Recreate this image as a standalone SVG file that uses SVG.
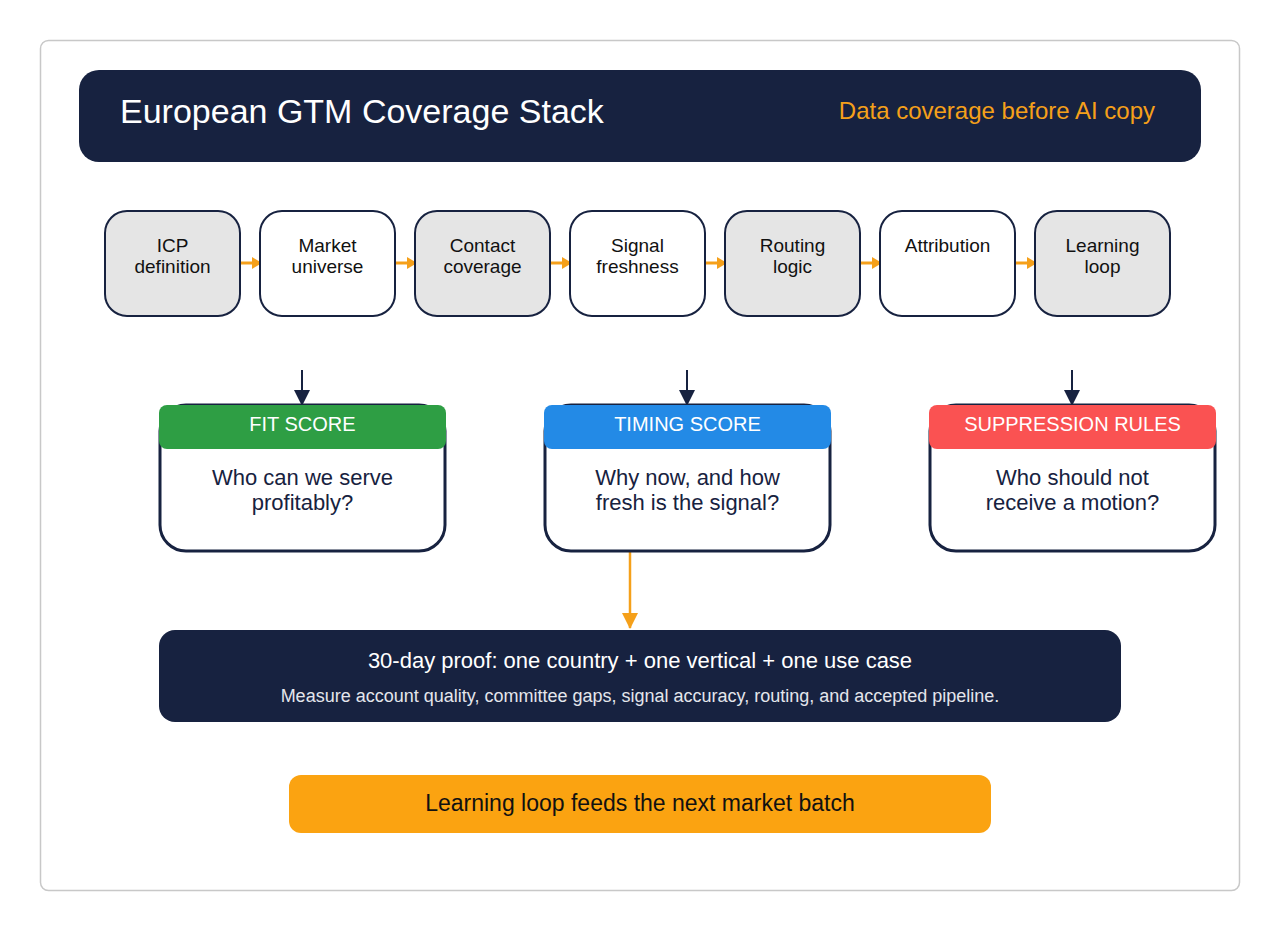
<svg xmlns="http://www.w3.org/2000/svg" width="1280" height="932" viewBox="0 0 1280 932">
<defs>
<style>
text{font-family:"Liberation Sans",Arial,sans-serif}
.step{stroke:#172240;stroke-width:2}
.grey{fill:#e5e5e5}
.white{fill:#ffffff}
.stxt{font-size:19px;fill:#111111;text-anchor:middle}
.card{fill:#ffffff;stroke:#172240;stroke-width:3}
.htxt{font-size:20px;fill:#ffffff;text-anchor:middle}
.btxt{font-size:22px;fill:#172240;text-anchor:middle}
.oarr{stroke:#f5a01a;stroke-width:3;fill:none}
.darr{stroke:#172240;stroke-width:2;fill:none}
</style>
<marker id="mo" markerWidth="10" markerHeight="12" refX="9" refY="6" orient="auto" markerUnits="userSpaceOnUse">
<path d="M0,0 L10,6 L0,12 z" fill="#f5a01a"/>
</marker>
<marker id="md" markerWidth="16" markerHeight="16" refX="15" refY="8" orient="auto" markerUnits="userSpaceOnUse">
<path d="M0,0 L16,8 L0,16 z" fill="#172240"/>
</marker>
<marker id="mo2" markerWidth="16" markerHeight="16" refX="15" refY="8" orient="auto" markerUnits="userSpaceOnUse">
<path d="M0,0 L16,8 L0,16 z" fill="#f5a01a"/>
</marker>
</defs>
<rect x="0" y="0" width="1280" height="932" fill="#ffffff"/>
<rect x="40.5" y="40.5" width="1199" height="850" rx="8" fill="#ffffff" stroke="#c8c8c8" stroke-width="1.5"/>

<g id="header">
<rect x="79" y="70" width="1122" height="92" rx="20" fill="#172240"/>
<text x="120" y="123" font-size="34" fill="#ffffff">European GTM Coverage Stack</text>
<text x="1155" y="119" font-size="24" fill="#f5a01a" text-anchor="end">Data coverage before AI copy</text>
</g>

<g id="connectors">
<line class="oarr" x1="240" y1="263" x2="261" y2="263" marker-end="url(#mo)"/>
<line class="oarr" x1="395" y1="263" x2="416" y2="263" marker-end="url(#mo)"/>
<line class="oarr" x1="550" y1="263" x2="571" y2="263" marker-end="url(#mo)"/>
<line class="oarr" x1="705" y1="263" x2="726" y2="263" marker-end="url(#mo)"/>
<line class="oarr" x1="860" y1="263" x2="881" y2="263" marker-end="url(#mo)"/>
<line class="oarr" x1="1015" y1="263" x2="1036" y2="263" marker-end="url(#mo)"/>
<line class="darr" x1="302" y1="370" x2="302" y2="405" marker-end="url(#md)"/>
<line class="darr" x1="687" y1="370" x2="687" y2="405" marker-end="url(#md)"/>
<line class="darr" x1="1072" y1="370" x2="1072" y2="405" marker-end="url(#md)"/>
<line x1="630" y1="552" x2="630" y2="628" stroke="#f5a01a" stroke-width="2.5" marker-end="url(#mo2)"/>
</g>

<g id="step-icp">
<rect class="step grey" x="105" y="211" width="135" height="105" rx="22"/>
<text class="stxt" x="172.5" y="252">ICP</text>
<text class="stxt" x="172.5" y="273">definition</text>
</g>
<g id="step-market">
<rect class="step white" x="260" y="211" width="135" height="105" rx="22"/>
<text class="stxt" x="327.5" y="252">Market</text>
<text class="stxt" x="327.5" y="273">universe</text>
</g>
<g id="step-contact">
<rect class="step grey" x="415" y="211" width="135" height="105" rx="22"/>
<text class="stxt" x="482.5" y="252">Contact</text>
<text class="stxt" x="482.5" y="273">coverage</text>
</g>
<g id="step-signal">
<rect class="step white" x="570" y="211" width="135" height="105" rx="22"/>
<text class="stxt" x="637.5" y="252">Signal</text>
<text class="stxt" x="637.5" y="273">freshness</text>
</g>
<g id="step-routing">
<rect class="step grey" x="725" y="211" width="135" height="105" rx="22"/>
<text class="stxt" x="792.5" y="252">Routing</text>
<text class="stxt" x="792.5" y="273">logic</text>
</g>
<g id="step-attribution">
<rect class="step white" x="880" y="211" width="135" height="105" rx="22"/>
<text class="stxt" x="947.5" y="252">Attribution</text>
</g>
<g id="step-learning">
<rect class="step grey" x="1035" y="211" width="135" height="105" rx="22"/>
<text class="stxt" x="1102.5" y="252">Learning</text>
<text class="stxt" x="1102.5" y="273">loop</text>
</g>

<g id="card-fit">
<rect class="card" x="160" y="405" width="285" height="146" rx="26"/>
<rect x="159" y="405" width="287" height="44" rx="8" fill="#2e9e44"/>
<text class="htxt" x="302.5" y="431">FIT SCORE</text>
<text class="btxt" x="302.5" y="485">Who can we serve</text>
<text class="btxt" x="302.5" y="510">profitably?</text>
</g>
<g id="card-timing">
<rect class="card" x="545" y="405" width="285" height="146" rx="26"/>
<rect x="544" y="405" width="287" height="44" rx="8" fill="#238ae6"/>
<text class="htxt" x="687.5" y="431">TIMING SCORE</text>
<text class="btxt" x="687.5" y="485">Why now, and how</text>
<text class="btxt" x="687.5" y="510">fresh is the signal?</text>
</g>
<g id="card-suppression">
<rect class="card" x="930" y="405" width="285" height="146" rx="26"/>
<rect x="929" y="405" width="287" height="44" rx="8" fill="#fa5252"/>
<text class="htxt" x="1072.5" y="431">SUPPRESSION RULES</text>
<text class="btxt" x="1072.5" y="485">Who should not</text>
<text class="btxt" x="1072.5" y="510">receive a motion?</text>
</g>

<g id="proof">
<rect x="159" y="630" width="962" height="92" rx="16" fill="#172240"/>
<text x="640" y="668" font-size="22" fill="#ffffff" text-anchor="middle">30-day proof: one country + one vertical + one use case</text>
<text x="640" y="702" font-size="18" fill="#e4e6ec" text-anchor="middle">Measure account quality, committee gaps, signal accuracy, routing, and accepted pipeline.</text>
</g>

<g id="loop">
<rect x="289" y="775" width="702" height="58" rx="12" fill="#fba311"/>
<text x="640" y="811" font-size="23" fill="#111111" text-anchor="middle">Learning loop feeds the next market batch</text>
</g>
</svg>
